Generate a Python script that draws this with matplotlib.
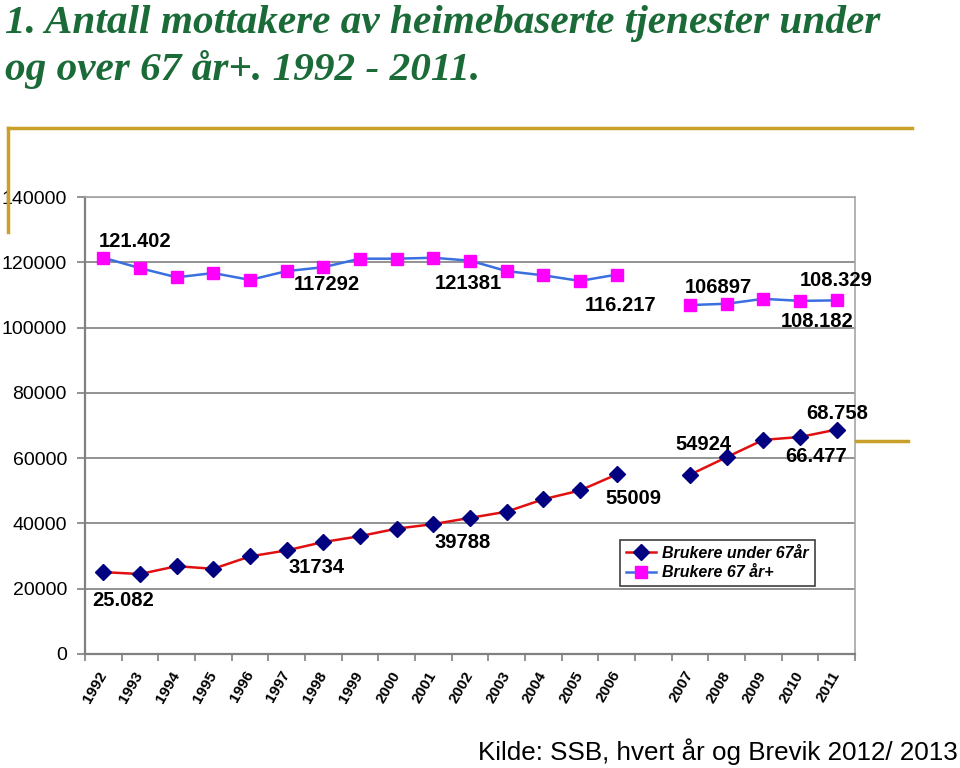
import numpy as np
import matplotlib
matplotlib.use('Agg')
import matplotlib.pyplot as plt
from matplotlib.lines import Line2D

plt.rcParams['font.family'] = ['Liberation Sans', 'DejaVu Sans']

# Data (blank category between 2006 and 2007)
years = ['1992', '1993', '1994', '1995', '1996', '1997', '1998', '1999', '2000',
         '2001', '2002', '2003', '2004', '2005', '2006', '',
         '2007', '2008', '2009', '2010', '2011']
under67 = [25082, 24500, 26900, 26100, 29900, 31734, 34300, 36100, 38400,
           39788, 41700, 43600, 47400, 50100, 55009, np.nan,
           54924, 60300, 65600, 66477, 68758]
over67 = [121402, 118200, 115400, 116700, 114600, 117292, 118500, 121100, 121100,
          121381, 120500, 117300, 116000, 114300, 116217, np.nan,
          106897, 107300, 108800, 108182, 108329]

# data labels: (series, index, text, dx px, dy px)
labels = [
    ('over', 0, '121.402', 32, 16),
    ('over', 5, '117292', 40, -13),
    ('over', 9, '121381', 35, -26),
    ('over', 14, '116.217', 4, -31),
    ('over', 16, '106897', 28, 18),
    ('over', 19, '108.182', 17, -21),
    ('over', 20, '108.329', 0, 20),
    ('under', 0, '25.082', 20, -28),
    ('under', 5, '31734', 30, -17),
    ('under', 9, '39788', 29, -18),
    ('under', 14, '55009', 17, -24),
    ('under', 16, '54924', 13, 30),
    ('under', 19, '66.477', 16, -19),
    ('under', 20, '68.758', 1, 16),
]

W, H = 960, 768
fig = plt.figure(figsize=(9.6, 7.68), dpi=100)
ax = fig.add_axes([85 / W, 1 - 654 / H, 770 / W, 457 / H])

x = np.arange(len(years))
ax.plot(x, under67, color='#e01010', lw=1.8, marker='D', ms=8,
        mfc='#000080', mec='#000080', label='Brukere under 67år', zorder=3)
ax.plot(x, over67, color='#3a6fe0', lw=1.8, marker='s', ms=9,
        mfc='#ff00ff', mec='#ff00ff', label='Brukere 67 år+', zorder=3)

for series, i, txt, dx, dy in labels:
    yv = over67[i] if series == 'over' else under67[i]
    ax.annotate(txt, (x[i], yv), xytext=(dx, dy), textcoords='offset pixels',
                ha='center', va='center', fontsize=14.5, fontweight='bold', zorder=4)

ax.set_xlim(-0.5, len(years) - 0.5)
ax.set_ylim(0, 140000)
ax.set_yticks(np.arange(0, 140001, 20000))
ax.set_yticklabels([str(v) for v in range(0, 140001, 20000)], fontsize=14)
ax.tick_params(axis='y', length=6, width=1.2, color='#808080', pad=7)

ax.set_xticks(np.arange(-0.5, len(years), 1))
ax.set_xticklabels([])
ax.tick_params(axis='x', which='major', length=5, width=1.2, color='#808080')
ax.set_xticks(x, minor=True)
ax.set_xticklabels(years, minor=True, rotation=60, ha='right', va='center',
                   rotation_mode='anchor', fontsize=11, fontweight='bold')
ax.tick_params(axis='x', which='minor', length=0, pad=13)

ax.grid(axis='y', color='#808080', lw=1.2)
ax.set_axisbelow(True)
for s in ['left', 'bottom']:
    ax.spines[s].set_color('#808080')
    ax.spines[s].set_linewidth(1.6)
for s in ['top', 'right']:
    ax.spines[s].set_color('#a6a6a6')
    ax.spines[s].set_linewidth(1.2)

leg = ax.legend(loc='lower left', bbox_to_anchor=(0.695, 0.149), borderaxespad=0,
                fancybox=False, framealpha=1, edgecolor='#404040', handlelength=1.9,
                borderpad=0.35, labelspacing=0.3, handletextpad=0.4,
                prop={'size': 11.5, 'weight': 'bold', 'style': 'italic'})
leg.get_frame().set_linewidth(1.2)

# title
green = '#1b6b38'
fig.text(5 / W, 1 - 33 / H, '1. Antall mottakere av heimebaserte tjenester under',
         family='Liberation Serif', fontsize=29.7, fontweight='bold', style='italic',
         color=green, va='baseline')
fig.text(5 / W, 1 - 80 / H, 'og over 67 år+. 1992 - 2011.',
         family='Liberation Serif', fontsize=29.7, fontweight='bold', style='italic',
         color=green, va='baseline')

# gold decorative lines
gold = '#c9a02a'
fig.add_artist(Line2D([8 / W, 912 / W], [1 - 128 / H, 1 - 128 / H],
                      color=gold, lw=2.5, transform=fig.transFigure))
fig.add_artist(Line2D([8 / W, 8 / W], [1 - 128 / H, 1 - 232 / H],
                      color=gold, lw=2.5, transform=fig.transFigure))
fig.add_artist(Line2D([856 / W, 908 / W], [1 - 441 / H, 1 - 441 / H],
                      color=gold, lw=2.5, transform=fig.transFigure))

fig.text(958 / W, 1 - 760 / H, 'Kilde: SSB, hvert år og Brevik 2012/ 2013',
         fontsize=18.7, ha='right', va='baseline')

fig.savefig('out.png', dpi=100)
